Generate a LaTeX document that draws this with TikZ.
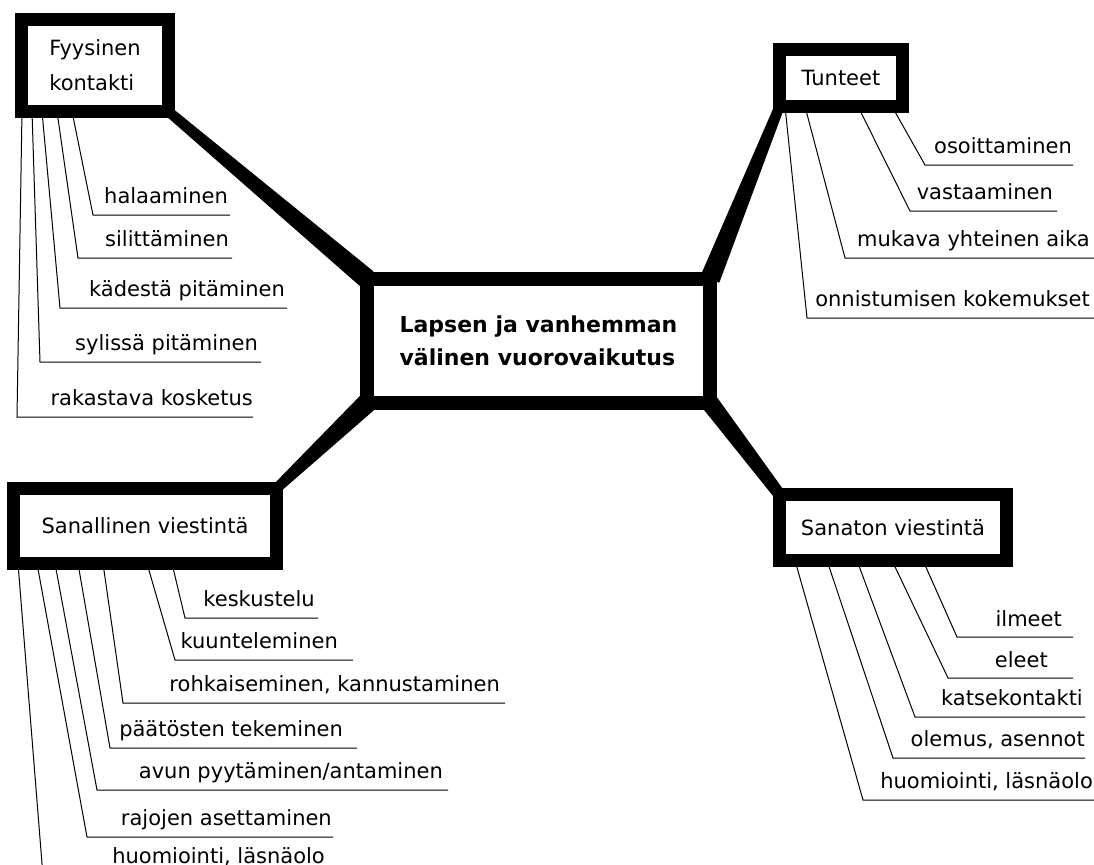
\documentclass[tikz,border=0pt]{standalone}
\usepackage{fontspec}
\setmainfont{DejaVu Sans}
\usetikzlibrary{calc}

\begin{document}
\begin{tikzpicture}[
    x=1pt, y=-1pt,
    topic/.style={rectangle, draw, line width=13pt, outer sep=0pt, fill=white, align=left, inner sep=0pt, font=\fontsize{21}{35}\selectfont},
    hub/.style={topic, line width=14pt, font=\bfseries\fontsize{22}{33}\selectfont},
    item/.style={anchor=base east, inner sep=0pt, font=\fontsize{21}{24}\selectfont},
    leg/.style={line width=1pt}
]
\useasboundingbox (0,0) rectangle (1094,864);
\clip (0,0) rectangle (1094,864);

% Central topic
\node[hub, minimum width=343pt, minimum height=124pt] (mid) at (538.5,341) {Lapsen ja vanhemman\\välinen vuorovaikutus};

% Sub topics
\node[topic, minimum width=147pt, minimum height=92pt] (fk) at (95,65.5) {Fyysinen\\kontakti};
\node[topic, minimum width=123pt, minimum height=57pt] (tu) at (841,78) {Tunteet};
\node[topic, minimum width=263pt, minimum height=75pt] (sv) at (145,526) {Sanallinen viestintä};
\node[topic, minimum width=227pt, minimum height=66pt] (sn) at (893,527.5) {Sanaton viestintä};

% Tapered links to the centre
\fill ($(fk.south east)!5pt!90:(mid.north west)$) -- ($(mid.north west)!10pt!-90:(fk.south east)$) -- ($(mid.north west)!10pt!90:(fk.south east)$) -- ($(fk.south east)!5pt!-90:(mid.north west)$) -- cycle;
\fill ($(tu.south west)!5pt!90:(mid.north east)$) -- ($(mid.north east)!10pt!-90:(tu.south west)$) -- ($(mid.north east)!10pt!90:(tu.south west)$) -- ($(tu.south west)!5pt!-90:(mid.north east)$) -- cycle;
\fill ($(sv.north east)!5pt!90:(mid.south west)$) -- ($(mid.south west)!10pt!-90:(sv.north east)$) -- ($(mid.south west)!10pt!90:(sv.north east)$) -- ($(sv.north east)!5pt!-90:(mid.south west)$) -- cycle;
\fill ($(sn.north west)!6pt!90:(mid.south east)$) -- ($(mid.south east)!9pt!-90:(sn.north west)$) -- ($(mid.south east)!9pt!90:(sn.north west)$) -- ($(sn.north west)!6pt!-90:(mid.south east)$) -- cycle;

% Fyysinen kontakti
\node[item] (f1) at (228,203) {halaaminen};
\node[item] (f2) at (229,246) {silittäminen};
\node[item] (f3) at (285,296) {kädestä pitäminen};
\node[item] (f4) at (258,350) {sylissä pitäminen};
\node[item] (f5) at (253,405) {rakastava kosketus};
\draw[leg] ($(fk.south)+(-23,0)$) -- (93,215) -- (230,215);
\draw[leg] ($(fk.south)+(-38,0)$) -- (78,258) -- (232,258);
\draw[leg] ($(fk.south)+(-53,0)$) -- (60,308) -- (287,308);
\draw[leg] ($(fk.south)+(-63,0)$) -- (40,362) -- (261,362);
\draw[leg] ($(fk.south)+(-73,0)$) -- (17,417) -- (253,417);

% Tunteet
\node[item] (t1) at (1072,153) {osoittaminen};
\node[item] (t2) at (1053,199) {vastaaminen};
\node[item] (t3) at (1090,246) {mukava yhteinen aika};
\node[item] (t4) at (1090,306) {onnistumisen kokemukset};
\draw[leg] ($(tu.south)+(51,0)$) -- (925,165) -- (1073,165);
\draw[leg] ($(tu.south)+(17,0)$) -- (910,211) -- (1057,211);
\draw[leg] ($(tu.south)+(-36,0)$) -- (845,258) -- (1094,258);
\draw[leg] ($(tu.south)+(-56,0)$) -- (807,318) -- (1094,318);

% Sanallinen viestinta
\node[item] (s1) at (315,606) {keskustelu};
\node[item] (s2) at (338,648) {kuunteleminen};
\node[item] (s3) at (500,691) {rohkaiseminen, kannustaminen};
\node[item] (s4) at (343,736) {päätösten tekeminen};
\node[item] (s5) at (443,778) {avun pyytäminen/antaminen};
\node[item] (s6) at (332,825) {rajojen asettaminen};
\node[item] (s7) at (325,863) {huomiointi, läsnäolo};
\draw[leg] ($(sv.south)+(27,0)$) -- (185,618) -- (318,618);
\draw[leg] ($(sv.south)+(2,0)$) -- (175,660) -- (353,660);
\draw[leg] ($(sv.south)+(-42,0)$) -- (123,703) -- (505,703);
\draw[leg] ($(sv.south)+(-67,0)$) -- (110,748) -- (357,748);
\draw[leg] ($(sv.south)+(-90,0)$) -- (97,790) -- (448,790);
\draw[leg] ($(sv.south)+(-108,0)$) -- (87,837) -- (333,837);
\draw[leg] ($(sv.south)+(-127,0)$) -- (43,876) -- (330,876);

% Sanaton viestinta
\node[item] (n1) at (1062,626) {ilmeet};
\node[item] (n2) at (1048,667) {eleet};
\node[item] (n3) at (1083,705) {katsekontakti};
\node[item] (n4) at (1085,746) {olemus, asennot};
\node[item] (n5) at (1093,788) {huomiointi, läsnäolo};
\draw[leg] ($(sn.south)+(30,0)$) -- (957,637) -- (1073,637);
\draw[leg] ($(sn.south)+(-1,0)$) -- (948,678) -- (1073,678);
\draw[leg] ($(sn.south)+(-36,0)$) -- (915,717) -- (1085,717);
\draw[leg] ($(sn.south)+(-66,0)$) -- (893,758) -- (1085,758);
\draw[leg] ($(sn.south)+(-98,0)$) -- (863,800) -- (1094,800);

\end{tikzpicture}
\end{document}
